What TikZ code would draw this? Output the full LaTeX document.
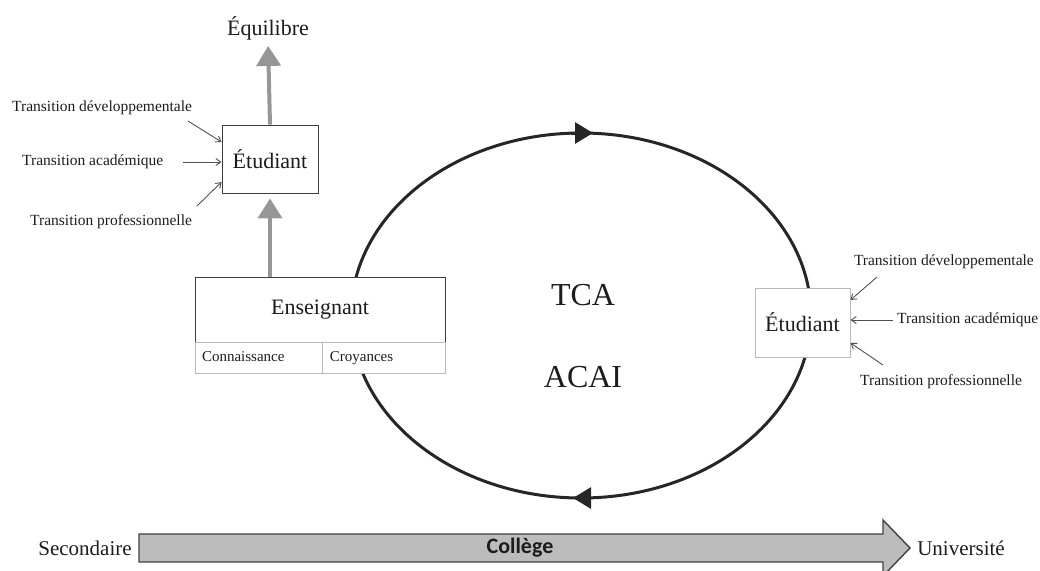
\documentclass[tikz,border=0pt]{standalone}
\usepackage{fontspec}
\setmainfont{Liberation Serif}
\newfontfamily\carlito{Carlito}
\usetikzlibrary{arrows.meta}

\definecolor{ink}{RGB}{28,28,28}
\definecolor{cycleink}{RGB}{38,38,38}
\definecolor{boxline}{RGB}{60,60,60}
\definecolor{softline}{RGB}{185,185,185}
\definecolor{growgray}{RGB}{150,150,150}
\definecolor{feedgray}{RGB}{80,80,80}
\definecolor{barfill}{RGB}{188,188,188}
\definecolor{baredge}{RGB}{65,65,65}

\newcommand\setfs[1]{\fontsize{#1}{#1}\selectfont}

\tikzset{
  every node/.style={text=ink, inner sep=2pt},
  box/.style={draw=boxline, line width=0.9pt, fill=white, align=center, font=\setfs{22}},
  rbox/.style={draw=softline, line width=1pt, fill=white, align=center, font=\setfs{22}},
  subbox/.style={draw=softline, line width=0.9pt, fill=white, font=\setfs{15}, inner xsep=7pt,
    align=left, minimum height=31pt, text height=10.5pt, text depth=3.5pt},
  trans/.style={font=\setfs{15.5}},
  feed/.style={draw=feedgray, line width=0.9pt, -{Straight Barb[length=5pt,width=7pt]}},
  growth/.style={draw=growgray, line width=4pt, -{Triangle[length=20pt,width=24pt]}},
  cycleline/.style={draw=cycleink, line width=3pt},
  cyclehead/.style={draw=cycleink, line width=3pt, -{Triangle[length=18pt,width=21pt]}},
  bar/.style={draw=baredge, fill=barfill, line width=1.4pt, line join=miter},
  bigword/.style={font=\setfs{32}},
  stage/.style={font=\setfs{21}},
}

\begin{document}
\begin{tikzpicture}[x=1pt,y=-1pt]
\useasboundingbox (0,0) rectangle (1040,570);

% the TCA / ACAI cycle
\coordinate (cyc) at (581,315.5);
\draw[cycleline] (cyc) ellipse [x radius=230, y radius=182.5];
\coordinate (cycTop) at (581,133);
\coordinate (cycBot) at (581,498);
\draw[cyclehead] ([xshift=-10pt]cycTop) -- ([xshift=12pt]cycTop);
\draw[cyclehead] ([xshift=10pt]cycBot) -- ([xshift=-8pt]cycBot);

\node[bigword] (tca) at (583,295) {TCA};
\node[bigword] (acai) at (583,377) {ACAI};

% teacher block
\node[box, minimum width=250pt, minimum height=65pt] (ens) at (320,309.5) {Enseignant};
\node[subbox, anchor=north west, text width=113pt] (conn) at (ens.south west) {Connaissance};
\node[subbox, anchor=north west, text width=109pt] (croy) at (conn.north east) {Croyances};

% student on the left
\node[box, minimum width=96pt, minimum height=68pt] (etuL) at (270,159) {Étudiant};
\node[font=\setfs{22}] (eq) at (268,28) {Équilibre};
\draw[growth, shorten >=4pt] (etuL.north) -- (eq.south);
\draw[growth, shorten >=5pt] (ens.north -| etuL.south) -- (etuL.south);

\node[trans, anchor=west] (tdL) at (10,108) {Transition développementale};
\node[trans, anchor=west] (taL) at (20,162) {Transition académique};
\node[trans, anchor=west] (tpL) at (28,222) {Transition professionnelle};
\coordinate (tdLa) at (188,121);
\coordinate (taLa) at (183,162);
\coordinate (tpLa) at (197,206);
\draw[feed] (tdLa) -- ([yshift=17pt]etuL.west);
\draw[feed] (taLa) -- (etuL.west |- taLa);
\draw[feed] (tpLa) -- ([yshift=-23pt]etuL.west);

% student on the right
\node[rbox, minimum width=95pt, minimum height=69pt] (etuR) at (802.5,322.5) {Étudiant};
\node[trans, anchor=east] (tdR) at (1036,262) {Transition développementale};
\node[trans, anchor=west] (taR) at (895,320) {Transition académique};
\node[trans, anchor=west] (tpR) at (858,382) {Transition professionnelle};
\coordinate (tdRa) at (877,277);
\coordinate (taRa) at (893,320);
\coordinate (tpRa) at (883,365);
\draw[feed] (tdRa) -- ([yshift=22.5pt]etuR.east);
\draw[feed] (taRa) -- (etuR.east |- taRa);
\draw[feed] (tpRa) -- ([yshift=-20.5pt]etuR.east);

% schooling timeline
\draw[bar] (139,534) -- (883,534) -- (883,520) -- (910,548) -- (883,576) -- (883,562) -- (139,562) -- cycle;
\node[font=\carlito\bfseries\setfs{22}] (col) at (520,548) {Collège};
\node[stage] (sec) at (85,548) {Secondaire};
\node[stage] (uni) at (961,548) {Université};
\end{tikzpicture}
\end{document}
